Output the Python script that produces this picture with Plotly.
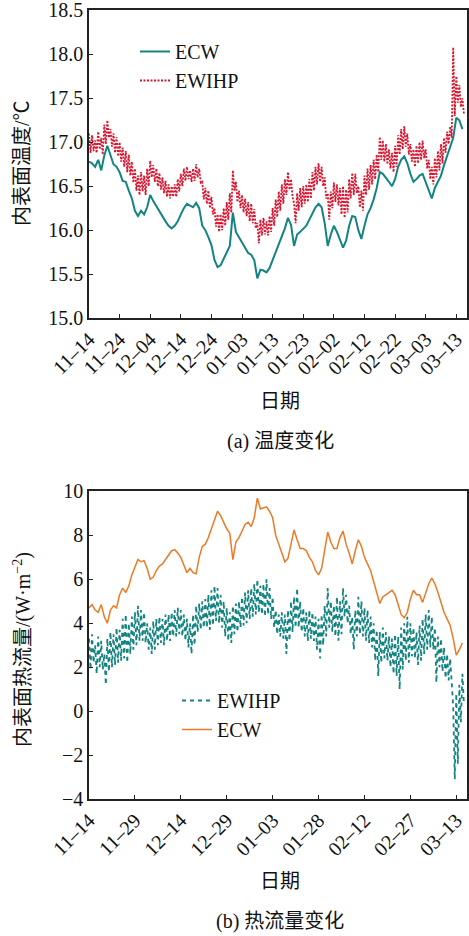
import plotly.graph_objects as go

# ---------------- data ----------------
# top: inner surface temperature, one value per day from 11-14 (day 0)
ecw_temp = [16.78, 16.76, 16.72, 16.80, 16.68, 16.85, 16.96, 16.84, 16.75, 16.72,
            16.66, 16.56, 16.55, 16.45, 16.36, 16.22, 16.16, 16.22, 16.18, 16.26,
            16.40, 16.33, 16.27, 16.21, 16.15, 16.10, 16.05, 16.02, 16.05, 16.10,
            16.18, 16.25, 16.30, 16.28, 16.26, 16.31, 16.25, 16.05, 16.00, 15.92,
            15.83, 15.66, 15.58, 15.60, 15.68, 15.76, 15.82, 16.20, 15.98, 15.92,
            15.86, 15.80, 15.74, 15.72, 15.66, 15.45, 15.55, 15.54, 15.52, 15.57,
            15.66, 15.75, 15.84, 15.92, 16.02, 16.14, 16.06, 15.82, 15.95, 15.98,
            16.02, 16.05, 16.12, 16.20, 16.26, 16.30, 16.26, 16.08, 15.82, 15.95,
            16.05, 15.98, 15.88, 15.80, 15.88, 16.05, 16.16, 16.15, 16.00, 15.90,
            16.05, 16.18, 16.25, 16.35, 16.48, 16.66, 16.64, 16.60, 16.55, 16.50,
            16.58, 16.72, 16.80, 16.84, 16.76, 16.64, 16.55, 16.58, 16.62, 16.64,
            16.55, 16.45, 16.36, 16.48, 16.56, 16.62, 16.74, 16.85, 16.95, 17.05,
            17.28, 17.25, 17.15]
# EWIHP daily high / low
ewihp_temp_hi = [17.10, 17.08, 17.02, 17.12, 17.05, 17.20, 17.25, 17.15, 17.10, 17.06,
                 17.00, 16.94, 16.90, 16.86, 16.78, 16.70, 16.62, 16.66, 16.62, 16.70,
                 16.79, 16.74, 16.70, 16.65, 16.60, 16.56, 16.52, 16.50, 16.52, 16.58,
                 16.64, 16.70, 16.72, 16.68, 16.70, 16.75, 16.70, 16.55, 16.48, 16.45,
                 16.38, 16.25, 16.18, 16.18, 16.25, 16.32, 16.42, 16.68, 16.55, 16.45,
                 16.40, 16.36, 16.32, 16.30, 16.24, 16.08, 16.12, 16.14, 16.10, 16.16,
                 16.25, 16.35, 16.44, 16.52, 16.58, 16.66, 16.58, 16.30, 16.42, 16.48,
                 16.50, 16.52, 16.58, 16.66, 16.72, 16.76, 16.72, 16.60, 16.42, 16.44,
                 16.54, 16.52, 16.48, 16.50, 16.46, 16.58, 16.65, 16.64, 16.50, 16.45,
                 16.62, 16.70, 16.74, 16.80, 16.86, 17.06, 17.02, 16.98, 16.92, 16.88,
                 16.96, 17.08, 17.15, 17.18, 17.10, 16.98, 16.92, 16.96, 17.00, 17.02,
                 16.92, 16.80, 16.72, 16.82, 16.90, 16.98, 17.05, 17.12, 17.18, 18.08,
                 17.75, 17.65, 17.50]
ewihp_temp_lo = [16.88, 16.90, 16.88, 16.92, 16.86, 16.98, 17.05, 16.95, 16.88, 16.84,
                 16.78, 16.72, 16.66, 16.62, 16.54, 16.45, 16.40, 16.44, 16.40, 16.50,
                 16.60, 16.55, 16.50, 16.46, 16.42, 16.38, 16.36, 16.38, 16.38, 16.44,
                 16.50, 16.56, 16.58, 16.55, 16.56, 16.60, 16.54, 16.35, 16.30, 16.25,
                 16.18, 16.04, 15.98, 16.00, 16.05, 16.12, 16.20, 16.45, 16.32, 16.25,
                 16.20, 16.16, 16.10, 16.08, 16.02, 15.85, 15.94, 15.95, 15.94, 15.98,
                 16.05, 16.15, 16.22, 16.30, 16.40, 16.46, 16.38, 16.08, 16.22, 16.26,
                 16.30, 16.32, 16.36, 16.45, 16.52, 16.55, 16.50, 16.36, 16.12, 16.25,
                 16.32, 16.28, 16.18, 16.14, 16.20, 16.36, 16.40, 16.42, 16.26, 16.22,
                 16.40, 16.46, 16.52, 16.58, 16.66, 16.80, 16.78, 16.75, 16.70, 16.66,
                 16.72, 16.86, 16.92, 16.95, 16.86, 16.78, 16.72, 16.76, 16.80, 16.82,
                 16.70, 16.58, 16.52, 16.60, 16.68, 16.76, 16.88, 16.98, 17.05, 17.30,
                 17.45, 17.40, 17.32]

# bottom: inner surface heat flux
ecw_flux = [4.70, 4.85, 4.60, 4.50, 4.85, 4.30, 4.00, 4.60, 4.80, 4.70,
            5.30, 5.60, 5.40, 5.70, 6.20, 6.60, 6.90, 6.80, 6.85, 6.50,
            6.00, 6.10, 6.40, 6.60, 6.70, 6.90, 7.10, 7.30, 7.35, 7.20,
            7.00, 6.60, 6.30, 6.50, 6.30, 6.25, 7.00, 7.50, 7.60, 7.90,
            8.30, 8.80, 9.10, 8.90, 8.60, 8.30, 8.10, 6.90, 7.70, 7.90,
            8.20, 8.50, 8.60, 8.40, 8.80, 9.70, 9.20, 9.25, 9.30, 9.10,
            8.80, 8.00, 7.60, 7.20, 6.80, 6.95, 7.60, 8.25, 7.80, 7.40,
            7.40, 7.30, 7.00, 6.80, 6.40, 6.20, 6.50, 7.40, 8.15, 7.70,
            7.40, 7.40, 7.90, 8.20, 7.60, 7.20, 6.70, 7.30, 7.80, 7.50,
            7.00, 6.70, 6.40, 5.90, 5.40, 4.90, 5.20, 5.30, 5.40, 5.50,
            5.30, 4.80, 4.40, 4.25, 4.50, 5.10, 5.50, 5.30, 5.30, 4.95,
            5.40, 5.80, 6.05, 5.80, 5.40, 4.90, 4.50, 4.20, 3.90, 3.30,
            2.55, 2.80, 3.10]
ewihp_flux_hi = [3.3, 3.5, 3.0, 3.4, 3.2, 2.6, 3.3, 3.6, 3.5, 3.8,
                 3.7, 4.2, 4.4, 4.0, 4.3, 4.5, 4.8, 4.6, 4.5, 4.0,
                 3.8, 4.1, 4.2, 4.3, 4.2, 4.4, 4.4, 4.5, 4.6, 4.7,
                 4.6, 4.4, 4.2, 4.0, 4.4, 4.8, 4.9, 5.0, 5.1, 5.3,
                 5.5, 5.7, 5.6, 5.3, 5.0, 4.7, 4.5, 4.8, 4.9, 5.0,
                 5.2, 5.4, 5.5, 5.6, 5.8, 6.0, 5.7, 5.8, 6.0, 5.6,
                 5.2, 4.6, 4.4, 4.5, 4.4, 4.6, 5.0, 5.2, 5.6, 5.0,
                 4.7, 4.5, 4.6, 4.5, 4.3, 4.2, 4.4, 4.8, 5.6, 5.0,
                 4.8, 5.2, 5.0, 5.6, 5.3, 4.8, 4.3, 4.6, 5.2, 5.0,
                 4.7, 4.6, 4.3, 4.0, 3.7, 3.6, 3.8, 3.6, 3.4, 3.3,
                 3.5, 3.4, 3.8, 4.0, 4.3, 4.0, 3.8, 3.6, 3.9, 4.2,
                 4.4, 4.6, 4.3, 3.8, 3.4, 3.3, 2.9, 2.6, 2.4, 0.2,
                 0.8, 1.2, 1.7]
ewihp_flux_lo = [1.9, 2.2, 1.7, 2.0, 1.9, 1.2, 1.8, 2.0, 2.1, 2.2,
                 2.3, 2.4, 2.2, 2.6, 2.8, 3.0, 3.2, 3.2, 3.1, 2.8,
                 2.6, 2.8, 3.0, 3.1, 3.0, 3.2, 3.2, 3.4, 3.4, 3.5,
                 3.4, 3.2, 2.9, 2.6, 3.0, 3.6, 3.7, 3.8, 3.8, 3.7,
                 3.9, 4.1, 4.0, 3.8, 3.4, 3.2, 3.1, 3.5, 3.6, 3.8,
                 3.9, 4.0, 4.2, 4.3, 4.4, 4.5, 4.4, 4.3, 4.4, 4.2,
                 3.8, 3.5, 3.4, 3.3, 2.6, 3.2, 3.6, 3.8, 3.8, 3.6,
                 3.4, 3.2, 3.3, 3.2, 2.8, 2.4, 3.0, 3.4, 3.8, 3.6,
                 3.4, 3.2, 3.5, 4.3, 4.0, 3.5, 2.8, 3.4, 3.5, 3.4,
                 3.2, 3.1, 2.9, 2.3, 1.6, 2.2, 2.4, 2.3, 2.0, 1.7,
                 1.6, 1.0, 1.9, 2.3, 2.2, 2.5, 2.4, 2.1, 2.3, 2.6,
                 2.8, 2.9, 2.8, 1.3, 2.0, 1.8, 1.5, 1.4, 1.0, -3.1,
                 -2.4, -0.5, 0.3]

temp_ticks = [15.0, 15.5, 16.0, 16.5, 17.0, 17.5, 18.0, 18.5]
flux_ticks = [-4, -2, 0, 2, 4, 6, 8, 10]
top_tick_days = [0, 10, 20, 30, 40, 50, 60, 70, 80, 90, 100, 110, 120]
top_tick_text = ["11–14", "11–24", "12–04", "12–14", "12–24", "01–03", "01–13",
                 "01–23", "02–02", "02–12", "02–22", "03–03", "03–13"]
bot_tick_days = [0, 15, 30, 45, 60, 75, 90, 105, 120]
bot_tick_text = ["11–14", "11–29", "12–14", "12–29", "01–03", "01–28",
                 "02–12", "02–27", "03–13"]

# ---------------- build series ----------------
days = list(range(len(ecw_temp)))
half_days = []
ewihp_temp = []
for d, hi, lo in zip(days, ewihp_temp_hi, ewihp_temp_lo):
    half_days += [d, d + 0.5]
    ewihp_temp += [hi, lo]
ewihp_flux = []
for hi, lo in zip(ewihp_flux_hi, ewihp_flux_lo):
    ewihp_flux += [hi, lo]

TEAL = "#138482"
RED = "#d8142e"
ORANGE = "#ea7a26"
FONT = "Liberation Serif, Noto Sans CJK SC, serif"
W, H = 469, 936

fig = go.Figure()
fig.add_trace(go.Scatter(x=days, y=ecw_temp, mode="lines", name="ECW",
                         line=dict(color=TEAL, width=2), xaxis="x", yaxis="y",
                         legend="legend"))
fig.add_trace(go.Scatter(x=half_days, y=ewihp_temp, mode="lines", name="EWIHP",
                         line=dict(color=RED, width=1.8, dash="2px,1.5px"),
                         xaxis="x", yaxis="y", legend="legend"))
fig.add_trace(go.Scatter(x=half_days, y=ewihp_flux, mode="lines", name="EWIHP",
                         line=dict(color=TEAL, width=1.8, dash="4px,4px"),
                         xaxis="x2", yaxis="y2", legend="legend2"))
fig.add_trace(go.Scatter(x=days, y=ecw_flux, mode="lines", name="ECW",
                         line=dict(color=ORANGE, width=1.5),
                         xaxis="x2", yaxis="y2", legend="legend2"))

axis_common = dict(showline=True, linecolor="#222", linewidth=1.5, mirror=True,
                   ticks="inside", ticklen=4, tickwidth=1.2, tickcolor="#222",
                   showgrid=False, zeroline=False, automargin=False,
                   ticklabeloverflow="allow",
                   tickfont=dict(family=FONT, size=20, color="#111"))

xdom = [89 / W, 467 / W]
fig.update_layout(
    width=W, height=H, margin=dict(l=0, r=0, t=0, b=0, autoexpand=False),
    paper_bgcolor="white", plot_bgcolor="white",
    font=dict(family=FONT, size=20, color="#111"),
    xaxis=dict(domain=xdom, range=[0, 123.5], tickvals=top_tick_days,
               ticktext=top_tick_text, tickangle=-45, anchor="y", **axis_common),
    yaxis=dict(domain=[1 - 318 / H, 1 - 10 / H], range=[15, 18.505],
               tickvals=temp_ticks, tickformat=".1f", anchor="x", **axis_common),
    xaxis2=dict(domain=xdom, range=[0, 123.5], tickvals=bot_tick_days,
                ticktext=bot_tick_text, tickangle=-45, anchor="y2", **axis_common),
    yaxis2=dict(domain=[1 - 799 / H, 1 - 491 / H], range=[-4, 10.02],
                tickvals=flux_ticks, anchor="x2", **axis_common),
    legend=dict(x=135 / W, y=1 - 32 / H, xanchor="left", yanchor="top",
                bgcolor="rgba(0,0,0,0)", font=dict(family=FONT, size=20),
                tracegroupgap=0, itemwidth=30),
    legend2=dict(x=177 / W, y=1 - 681 / H, xanchor="left", yanchor="top",
                 bgcolor="rgba(0,0,0,0)", font=dict(family=FONT, size=20),
                 tracegroupgap=0, itemwidth=30),
    showlegend=True,
)

def ann(text, x, y, angle=0, size=20):
    fig.add_annotation(text=text, x=x / W, y=1 - y / H, xref="paper", yref="paper",
                       showarrow=False, textangle=angle, xanchor="center",
                       yanchor="middle", font=dict(family=FONT, size=size, color="#111"))

ann("日期", 280, 401)
ann("(a) 温度变化", 280, 441)
ann("日期", 280, 881)
ann("(b) 热流量变化", 280, 921)
ann("内表面温度/℃", 22, 163, angle=-90)
ann("内表面热流量/(W·m<sup>−2</sup>)", 22, 650, angle=-90)

fig.write_html("out.html", config={"displayModeBar": False},
               post_script="document.body.style.margin='0';"
                           "document.body.style.overflow='hidden';")
